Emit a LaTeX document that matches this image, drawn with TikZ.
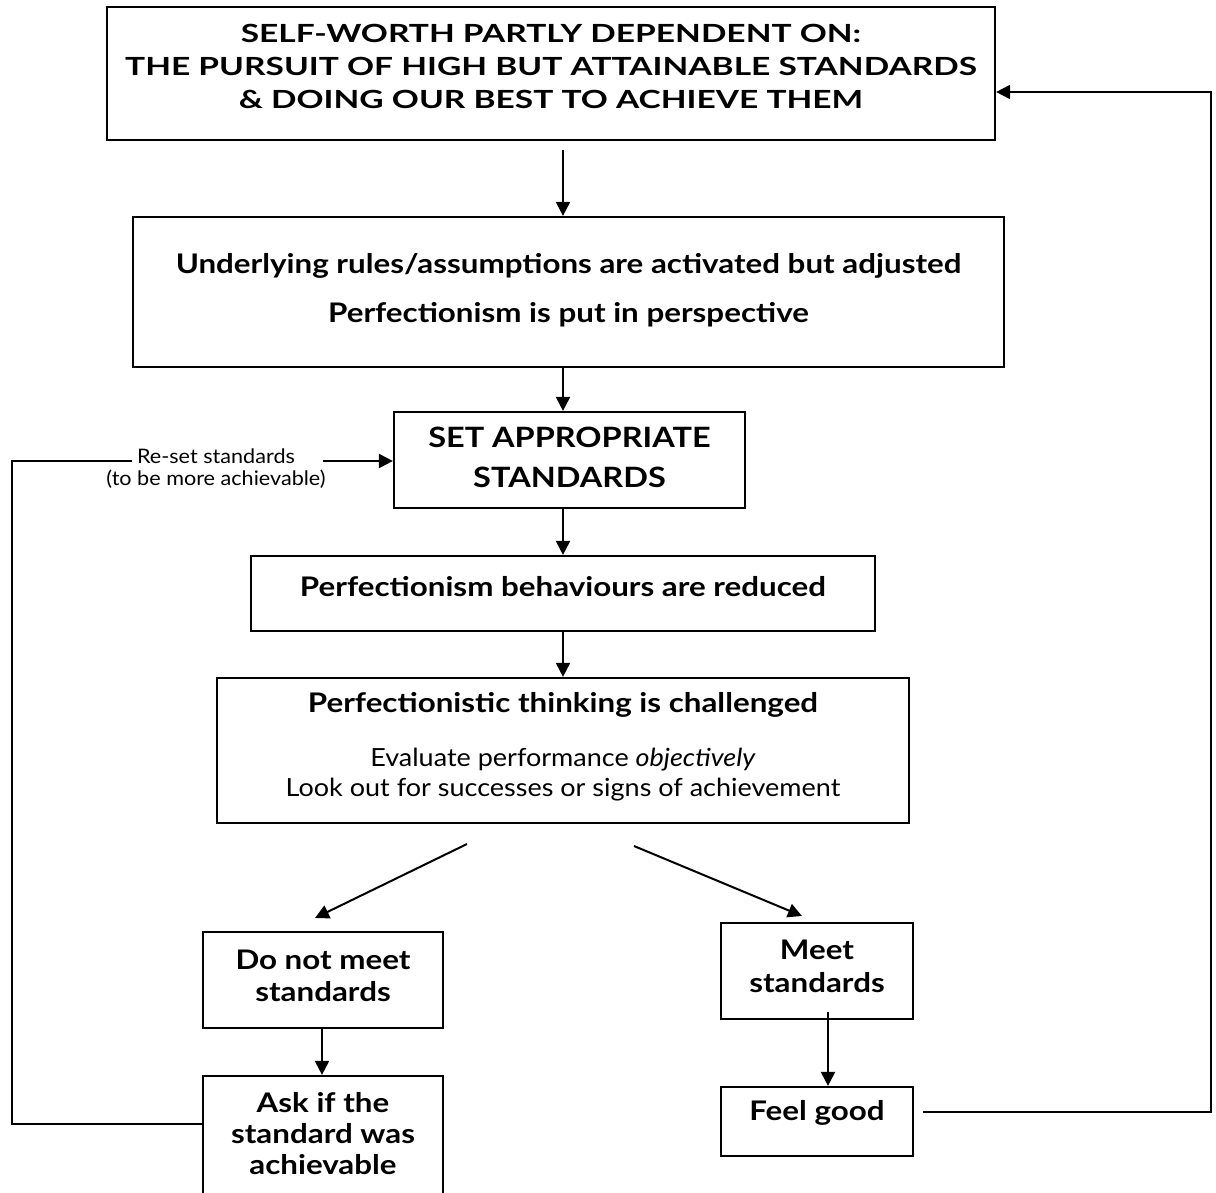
\documentclass[tikz,border=0pt]{standalone}
\usepackage{fontspec}
\setmainfont{Lato}[FakeStretch=1.08]
\newfontfamily\gb{Lato}[FakeStretch=1.16]
\newfontfamily\gbw{Lato}[FakeStretch=1.34]
\usetikzlibrary{arrows.meta}
\begin{document}
\begin{tikzpicture}[x=0.5pt,y=-0.5pt,
  box/.style={draw,line width=1.1pt,inner sep=0pt},
  txt/.style={align=center,inner sep=0pt},
  arr/.style={line width=1pt,-{Triangle[length=7pt,width=7pt]}},
  ln/.style={line width=1pt}]
\useasboundingbox (0,0) rectangle (1216,1193);
\clip (0,0) rectangle (1216,1193);
% boxes
\node[box,minimum width=444pt,minimum height=66.5pt] (b1) at (551,73.5) {};
\node[txt,font=\gbw\fontsize{12.5}{16.5}\selectfont\bfseries] (t1) at (551,66) {SELF-WORTH PARTLY DEPENDENT ON:\\THE PURSUIT OF HIGH BUT ATTAINABLE STANDARDS\\\& DOING OUR BEST TO ACHIEVE THEM};
\node[box,minimum width=435.5pt,minimum height=75pt] (b2) at (568.5,292) {};
\node[txt,font=\gb\fontsize{13.5}{24.5}\selectfont\bfseries] (t2) at (568.5,290.5) {Underlying rules/assumptions are activated but adjusted\\Perfectionism is put in perspective};
\node[box,minimum width=175.5pt,minimum height=48pt] (b3) at (569.5,460) {};
\node[txt,font=\gb\fontsize{14}{20}\selectfont\bfseries] (t3) at (569.5,457) {SET APPROPRIATE\\STANDARDS};
\node[box,minimum width=312pt,minimum height=37.5pt] (b4) at (563,593.5) {};
\node[txt,font=\gb\fontsize{13.5}{16}\selectfont\bfseries] (t4) at (563,587) {Perfectionism behaviours are reduced};
\node[box,minimum width=346pt,minimum height=72.5pt] (b5) at (563,750.5) {};
\node[txt,font=\gb\fontsize{13.5}{16}\selectfont\bfseries] (t5a) at (563,705) {Perfectionistic thinking is challenged};
\node[txt,font=\fontsize{12.5}{15}\selectfont] (t5b) at (563,775) {Evaluate performance \textit{objectively}\\Look out for successes or signs of achievement};
\node[box,minimum width=120pt,minimum height=48pt] (b6) at (323,980) {};
\node[txt,font=\gb\fontsize{13.5}{16}\selectfont\bfseries] (t6) at (323,976) {Do not meet\\standards};
\node[box,minimum width=120pt,minimum height=67pt] (b7) at (323,1143) {};
\node[txt,font=\gb\fontsize{13.5}{15.5}\selectfont\bfseries] (t7) at (323,1134) {Ask if the\\standard was\\achievable};
\node[box,minimum width=96pt,minimum height=48pt] (b8) at (817,971) {};
\node[txt,font=\gb\fontsize{13.5}{16.5}\selectfont\bfseries] (t8) at (817,966.5) {Meet\\standards};
\node[box,minimum width=96pt,minimum height=34.5pt] (b9) at (817,1121.5) {};
\node[txt,font=\gb\fontsize{13.5}{16}\selectfont\bfseries] (t9) at (817,1113) {Feel good};
\node[txt,font=\fontsize{10}{11}\selectfont] (lab) at (216,469) {Re-set standards\\(to be more achievable)};
% coordinates
\coordinate (cx) at (563,0);
\coordinate (a1) at (563,150);
\coordinate (d1) at (467,844);
\coordinate (d2) at (315,918);
\coordinate (d3) at (634,846);
\coordinate (d4) at (802,916);
\coordinate (lx) at (322,0);
\coordinate (m1) at (828,1012);
\coordinate (r1) at (923,1112);
\coordinate (r2) at (1211,1112);
\coordinate (r3) at (1211,92);
\coordinate (l1) at (203,1124);
\coordinate (l2) at (12,1124);
\coordinate (l3) at (12,461);
\coordinate (g1) at (132,461);
\coordinate (g2) at (323,461);
% connectors
\draw[arr] (a1) -- (a1 |- b2.north);
\draw[arr] (b2.south -| cx) -- (b3.north -| cx);
\draw[arr] (b3.south -| cx) -- (b4.north -| cx);
\draw[arr] (b4.south -| cx) -- (b5.north -| cx);
\draw[arr] (d1) -- (d2);
\draw[arr] (d3) -- (d4);
\draw[arr] (b6.south -| lx) -- (b7.north -| lx);
\draw[arr] (m1) -- (m1 |- b9.north);
\draw[arr] (r1) -- (r2) -- (r3) -- (r3 -| b1.east);
\draw[ln] (l1) -- (l2) -- (l3) -- (g1);
\draw[arr] (g2) -- (g2 -| b3.west);
\end{tikzpicture}
\end{document}
